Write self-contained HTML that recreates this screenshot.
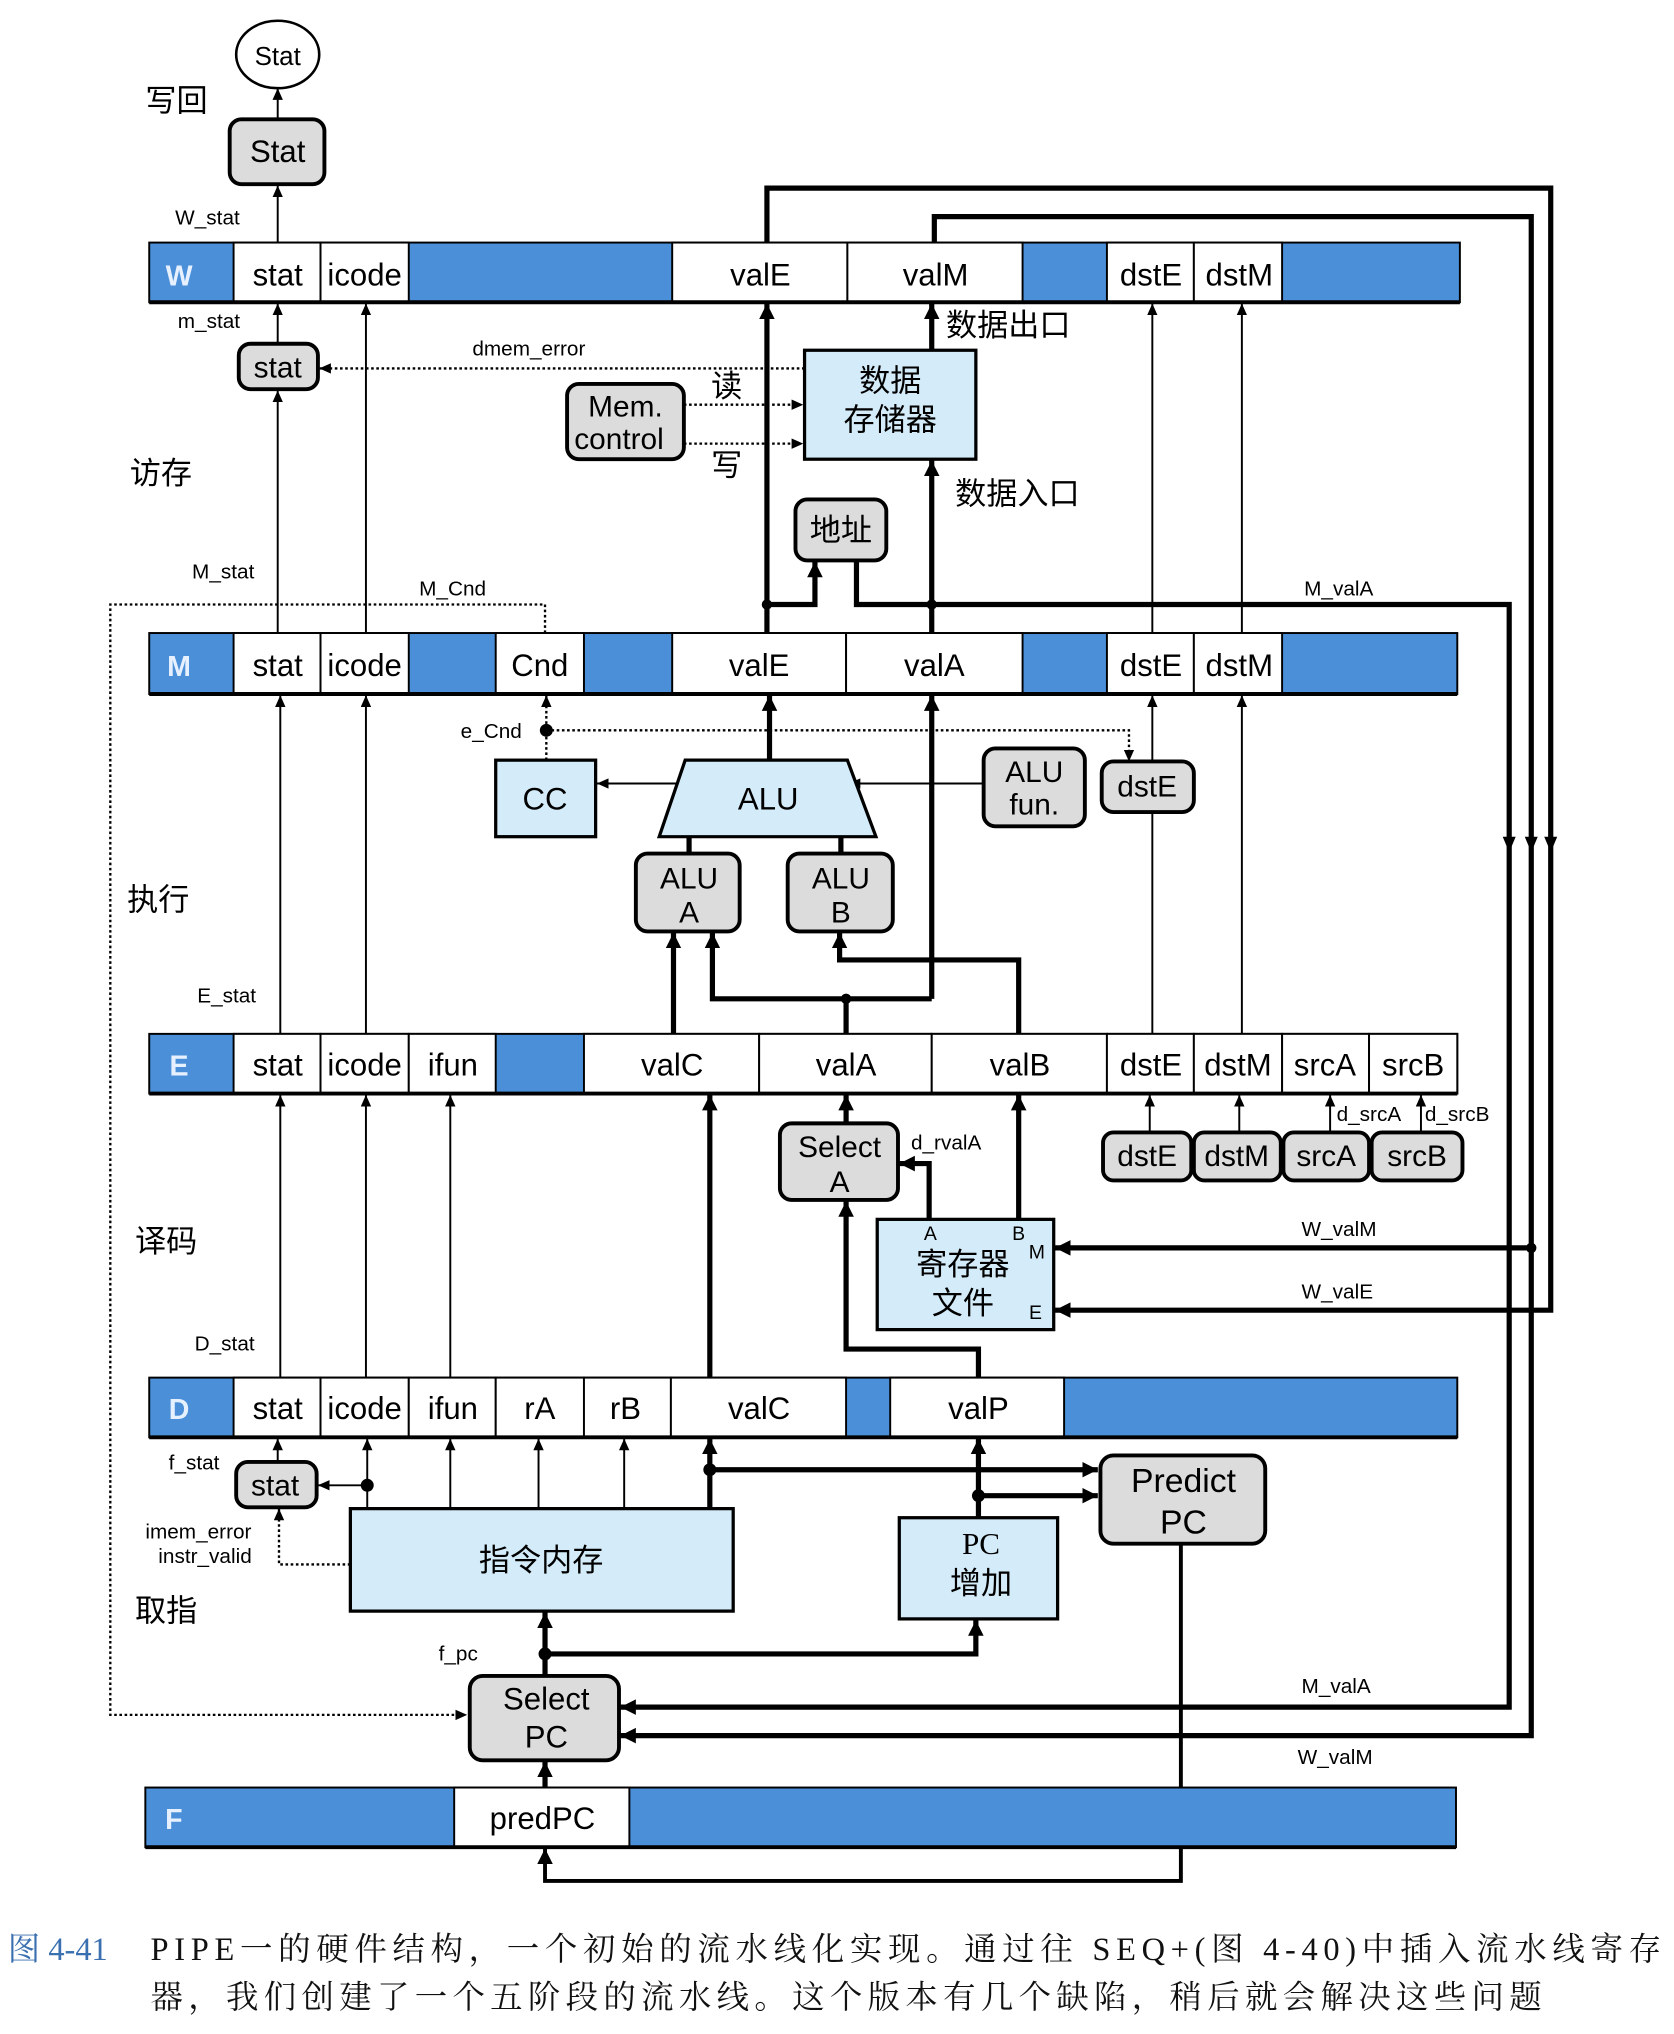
<!DOCTYPE html>
<html><head><meta charset="utf-8"><style>html,body{margin:0;padding:0;background:#fff}svg{display:block}</style></head>
<body>
<svg width="1674" height="2034" viewBox="0 0 1290 1568" preserveAspectRatio="none" xmlns="http://www.w3.org/2000/svg" font-family="Liberation Sans, Noto Sans CJK SC, sans-serif">
<defs>
<marker id="a" markerUnits="userSpaceOnUse" markerWidth="14" markerHeight="14" refX="12" refY="6" orient="auto"><path d="M0,0 L12,6 L0,12 z" fill="#000"/></marker>
<marker id="s" markerUnits="userSpaceOnUse" markerWidth="10" markerHeight="10" refX="9" refY="4" orient="auto"><path d="M0,0 L9,4 L0,8 z" fill="#000"/></marker>
</defs>
<rect width="1290" height="1568" fill="#fff"/>
<g fill="none" stroke="#000">
<g stroke-width="1.5" marker-end="url(#s)">
<path d="M214 92V68"/><path d="M214 187V143"/><path d="M214 265V234"/><path d="M214 488V301"/><path d="M282 488V234"/>
<path d="M888 488V234"/><path d="M957 488V234"/>
<path d="M216 797V536"/><path d="M282 797V536"/><path d="M888 797V536"/><path d="M957 797V536"/>
<path d="M216 1062V844"/><path d="M282 1062V844"/><path d="M347 1062V844"/>
<path d="M886 873V844"/><path d="M955 873V844"/><path d="M1025 873V844"/><path d="M1095 873V844"/>
<path d="M214 1127V1109"/><path d="M283 1163V1109"/><path d="M347 1163V1109"/><path d="M415 1163V1109"/><path d="M481 1163V1109"/>
<path d="M283 1145H245"/>
<path d="M528 604H460"/><path d="M758 604H654"/>
</g>
<path d="M910 1190V1450H420V1425" stroke-width="3" marker-end="url(#a)"/>
<g stroke-width="4">
<path d="M591 488V234" marker-end="url(#a)"/><path d="M591 187V145H1195V1010H813" marker-end="url(#a)"/>
<path d="M720 187V167H1180V1338H478" marker-end="url(#a)"/><path d="M1180 962H813" marker-end="url(#a)"/>
<path d="M718 270V234" marker-end="url(#a)"/>
<path d="M718 488V355" marker-end="url(#a)"/>
<path d="M591 466H628V433" marker-end="url(#a)"/>
<path d="M660 433V466H1163V1316H478" marker-end="url(#a)"/>
<path d="M593 586V536" marker-end="url(#a)"/>
<path d="M718 770V536" marker-end="url(#a)"/>
<path d="M531 658V645M648 658V645"/>
<path d="M519 797V719" marker-end="url(#a)"/>
<path d="M652 797V770H549V719" marker-end="url(#a)"/><path d="M652 770H718"/>
<path d="M785 797V740H647V719" marker-end="url(#a)"/>
<path d="M547 1062V844" marker-end="url(#a)"/>
<path d="M652 866V844" marker-end="url(#a)"/>
<path d="M716 940V897H693" marker-end="url(#a)"/>
<path d="M785 940V844" marker-end="url(#a)"/>
<path d="M754 1062V1040H652V926" marker-end="url(#a)"/>
<path d="M547 1163V1109" marker-end="url(#a)"/><path d="M547 1133H846" marker-end="url(#a)"/>
<path d="M754 1170V1109" marker-end="url(#a)"/><path d="M754 1153H846" marker-end="url(#a)"/>
<path d="M420 1292V1243" marker-end="url(#a)"/><path d="M420 1275H752V1249" marker-end="url(#a)"/>
<path d="M420 1378V1358" marker-end="url(#a)"/>
</g>
<g stroke-width="1.8" stroke-dasharray="2,2">
<path d="M620 284H246" marker-end="url(#s)"/>
<path d="M527 312H619" marker-end="url(#s)"/><path d="M527 342H619" marker-end="url(#s)"/>
<path d="M420 488V466H85V1322H360" marker-end="url(#s)"/>
<path d="M421 586V536" marker-end="url(#s)"/>
<path d="M421 563H870V587" marker-end="url(#s)"/>
<path d="M270 1206H215V1163" marker-end="url(#s)"/>
</g>
</g>
<g fill="#000"><path d="M1158 645h10l-5 12z"/><path d="M1175 645h10l-5 12z"/><path d="M1190 645h10l-5 12z"/>
<circle cx="591" cy="466" r="4"/><circle cx="718" cy="466" r="4"/><circle cx="421" cy="563" r="5"/><circle cx="652" cy="770" r="4"/><circle cx="1180" cy="962" r="4"/>
<circle cx="283" cy="1145" r="5"/><circle cx="547" cy="1133" r="5"/><circle cx="754" cy="1153" r="5"/><circle cx="420" cy="1275" r="5"/></g>

<g stroke="#000" stroke-width="1.5">
<g fill="#4a8fd8">
<rect x="115" y="187" width="1010" height="46"/><rect x="115" y="488" width="1008" height="47"/>
<rect x="115" y="797" width="1008" height="46"/><rect x="115" y="1062" width="1008" height="46"/><rect x="112" y="1378" width="1010" height="46"/>
</g>
<g fill="#fff">
<rect x="180" y="187" width="67" height="46"/><rect x="247" y="187" width="68" height="46"/><rect x="518" y="187" width="135" height="46"/><rect x="653" y="187" width="135" height="46"/><rect x="853" y="187" width="67" height="46"/><rect x="920" y="187" width="68" height="46"/>
<rect x="180" y="488" width="67" height="47"/><rect x="247" y="488" width="68" height="47"/><rect x="382" y="488" width="68" height="47"/><rect x="518" y="488" width="134" height="47"/><rect x="652" y="488" width="136" height="47"/><rect x="853" y="488" width="67" height="47"/><rect x="920" y="488" width="68" height="47"/>
<rect x="180" y="797" width="67" height="46"/><rect x="247" y="797" width="68" height="46"/><rect x="315" y="797" width="67" height="46"/><rect x="450" y="797" width="135" height="46"/><rect x="585" y="797" width="133" height="46"/><rect x="718" y="797" width="135" height="46"/><rect x="853" y="797" width="67" height="46"/><rect x="920" y="797" width="68" height="46"/><rect x="988" y="797" width="67" height="46"/><rect x="1055" y="797" width="68" height="46"/>
<rect x="180" y="1062" width="67" height="46"/><rect x="247" y="1062" width="68" height="46"/><rect x="315" y="1062" width="67" height="46"/><rect x="382" y="1062" width="68" height="46"/><rect x="450" y="1062" width="67" height="46"/><rect x="517" y="1062" width="135" height="46"/><rect x="686" y="1062" width="134" height="46"/>
<rect x="350" y="1378" width="135" height="46"/>
</g>
</g>
<g stroke="#000" stroke-width="3" fill="none">
<path d="M115 233H1125M115 535H1123M115 843H1123M115 1108H1123M112 1424H1122"/>
</g>
<g font-size="24" text-anchor="middle" fill="#000">
<g fill="#e6f0ff" font-size="22" font-weight="bold"><text x="138" y="220">W</text><text x="138" y="521">M</text><text x="138" y="829">E</text><text x="138" y="1094">D</text><text x="134" y="1410">F</text></g>
<text x="214" y="220">stat</text><text x="281" y="220">icode</text><text x="586" y="220">valE</text><text x="721" y="220">valM</text><text x="887" y="220">dstE</text><text x="955" y="220">dstM</text>
<text x="214" y="521">stat</text><text x="281" y="521">icode</text><text x="416" y="521">Cnd</text><text x="585" y="521">valE</text><text x="720" y="521">valA</text><text x="887" y="521">dstE</text><text x="955" y="521">dstM</text>
<text x="214" y="829">stat</text><text x="281" y="829">icode</text><text x="349" y="829">ifun</text><text x="518" y="829">valC</text><text x="652" y="829">valA</text><text x="786" y="829">valB</text><text x="887" y="829">dstE</text><text x="954" y="829">dstM</text><text x="1021" y="829">srcA</text><text x="1089" y="829">srcB</text>
<text x="214" y="1094">stat</text><text x="281" y="1094">icode</text><text x="349" y="1094">ifun</text><text x="416" y="1094">rA</text><text x="482" y="1094">rB</text><text x="585" y="1094">valC</text><text x="754" y="1094">valP</text>
<text x="418" y="1410">predPC</text>
</g>

<g stroke="#000" stroke-width="3">
<ellipse cx="214" cy="42" rx="32" ry="26" fill="#fff" stroke-width="2"/>
<g fill="#dcdcdc">
<rect x="177" y="92" width="73" height="50" rx="9"/><rect x="184" y="265" width="61" height="35" rx="9"/><rect x="437" y="296" width="90" height="58" rx="9"/>
<rect x="613" y="385" width="70" height="47" rx="9"/><rect x="758" y="577" width="78" height="60" rx="9"/><rect x="849" y="587" width="71" height="39" rx="9"/>
<rect x="490" y="658" width="80" height="60" rx="9"/><rect x="607" y="658" width="81" height="60" rx="9"/>
<rect x="601" y="866" width="91" height="59" rx="9"/>
<rect x="850" y="873" width="68" height="37" rx="8"/><rect x="920" y="873" width="67" height="37" rx="8"/><rect x="989" y="873" width="66" height="37" rx="8"/><rect x="1057" y="873" width="70" height="37" rx="8"/>
<rect x="182" y="1127" width="62" height="35" rx="9"/><rect x="848" y="1122" width="127" height="68" rx="10"/><rect x="362" y="1292" width="115" height="65" rx="10"/>
</g>
<g fill="#d4ecf9" stroke-width="2.5">
<rect x="620" y="270" width="132" height="84"/><rect x="382" y="586" width="77" height="59"/>
<path d="M528 586H653L675 645H508Z"/>
<rect x="676" y="940" width="136" height="85"/><rect x="270" y="1163" width="295" height="79"/><rect x="693" y="1170" width="122" height="78"/>
</g>
</g>
<g text-anchor="middle" fill="#000" font-size="23">
<text x="214" y="50" font-size="20">Stat</text><text x="214" y="125" font-size="24">Stat</text><text x="214" y="291">stat</text>
<text x="482" y="321">Mem.</text><text x="477" y="346">control</text>
<text x="686" y="302" font-size="24">数据</text><text x="686" y="332" font-size="24">存储器</text>
<text x="648" y="417" font-size="24">地址</text>
<text x="420" y="624" font-size="24">CC</text><text x="592" y="624" font-size="24">ALU</text>
<text x="797" y="603">ALU</text><text x="797" y="628">fun.</text><text x="884" y="614">dstE</text>
<text x="531" y="685">ALU</text><text x="531" y="711">A</text><text x="648" y="685">ALU</text><text x="648" y="711">B</text>
<text x="647" y="892">Select</text><text x="647" y="919">A</text>
<text x="742" y="983" font-size="24">寄存器</text><text x="742" y="1013" font-size="24">文件</text>
<text x="717" y="956" font-size="15">A</text><text x="785" y="956" font-size="15">B</text><text x="799" y="970" font-size="15">M</text><text x="798" y="1017" font-size="15">E</text>
<text x="884" y="899">dstE</text><text x="953" y="899">dstM</text><text x="1022" y="899">srcA</text><text x="1092" y="899">srcB</text>
<text x="212" y="1153">stat</text>
<text x="417" y="1211" font-size="24">指令内存</text>
<text x="756" y="1198" font-size="24" font-family="Liberation Serif, Noto Serif CJK SC, serif">PC</text><text x="756" y="1229" font-size="24">增加</text>
<text x="912" y="1150" font-size="26">Predict</text><text x="912" y="1182" font-size="26">PC</text>
<text x="421" y="1318" font-size="24">Select</text><text x="421" y="1347" font-size="24">PC</text>
</g>
<g font-size="16" fill="#000">
<text x="135" y="173">W_stat</text><text x="137" y="253">m_stat</text><text x="364" y="274">dmem_error</text><text x="148" y="446">M_stat</text><text x="323" y="459">M_Cnd</text>
<text x="1005" y="459">M_valA</text><text x="355" y="569">e_Cnd</text><text x="152" y="773">E_stat</text>
<text x="702" y="886">d_rvalA</text><text x="1030" y="864">d_srcA</text><text x="1098" y="864">d_srcB</text>
<text x="1003" y="953">W_valM</text><text x="1003" y="1001">W_valE</text><text x="150" y="1041">D_stat</text>
<text x="130" y="1133">f_stat</text><text x="112" y="1186">imem_error</text><text x="122" y="1205">instr_valid</text>
<text x="338" y="1280">f_pc</text><text x="1003" y="1305">M_valA</text><text x="1000" y="1360">W_valM</text>
</g>
<g font-size="24" fill="#000">
<text x="112" y="86">写回</text><text x="100" y="373">访存</text><text x="98" y="702">执行</text><text x="104" y="965">译码</text><text x="104" y="1250">取指</text>
<text x="548" y="306">读</text><text x="548" y="367">写</text>
<text x="729" y="259">数据出口</text><text x="736" y="389">数据入口</text>
</g>
<g font-size="25" font-family="Liberation Serif, Noto Serif CJK SC, serif">
<text x="6" y="1511" fill="#3a6fb0">图 4-41</text>
<text x="116" y="1511" fill="#111" textLength="1164" lengthAdjust="spacing">PIPE一的硬件结构，一个初始的流水线化实现。通过往 SEQ+(图 4-40)中插入流水线寄存</text>
<text x="116" y="1548" fill="#111" textLength="1072" lengthAdjust="spacing">器，我们创建了一个五阶段的流水线。这个版本有几个缺陷，稍后就会解决这些问题</text>
</g>
</svg>
</body></html>
